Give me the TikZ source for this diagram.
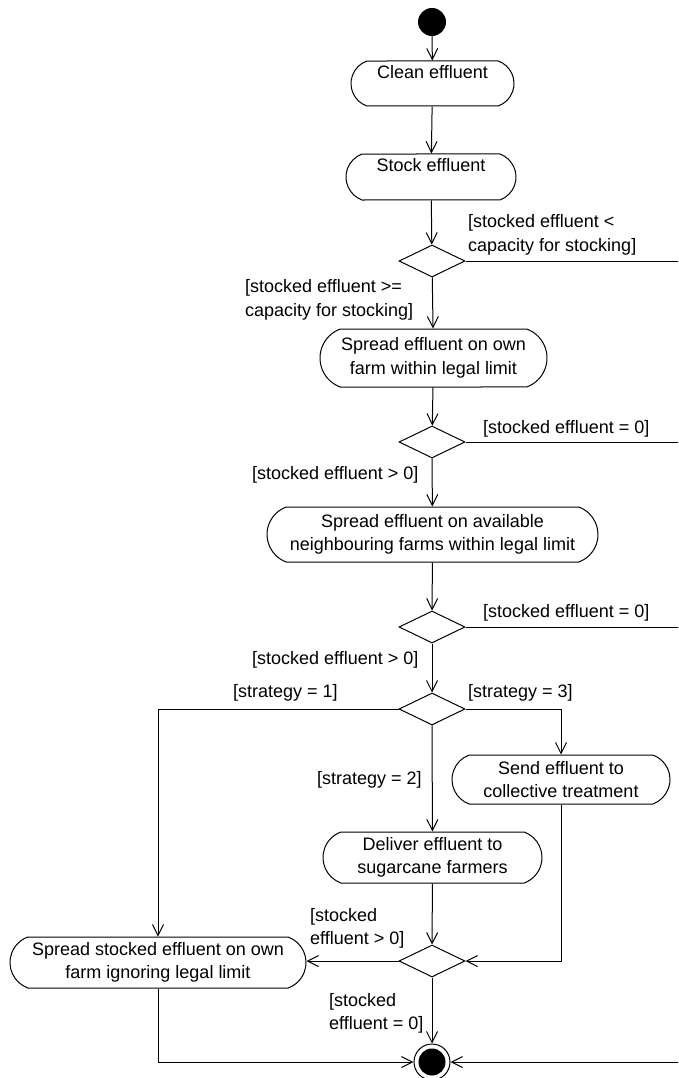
\documentclass[tikz,border=0pt]{standalone}
\usepackage{fontspec}
\setmainfont{Liberation Sans}
\usetikzlibrary{arrows.meta,shapes.misc,shapes.geometric}
\begin{document}
\begin{tikzpicture}[x=1pt,y=-1pt,
  every node/.style={font=\fontsize{18}{23.5}\selectfont},
  act/.style={draw, line width=1pt, rounded rectangle, rounded rectangle arc length=140, inner sep=0pt, align=center},
  dec/.style={draw, line width=1pt, diamond, minimum width=66pt, minimum height=32pt, inner sep=0pt},
  arr/.style={line width=1pt, -{Straight Barb[length=11pt,width=11pt,line width=1pt]}},
  ln/.style={line width=1pt},
  lbl/.style={anchor=west, align=left, inner sep=0pt}]
\useasboundingbox (0,0) rectangle (678,1078);
\clip (0,0) rectangle (678,1078);
\fill[white] (0,0) rectangle (678,1078);

% nodes
\node[circle, fill, inner sep=0pt, minimum size=28pt] (init) at (432,22) {};
\node[act, minimum width=163pt, minimum height=45pt] (clean) at (432.5,83.5) {Clean effluent\\\mbox{}};
\node[act, minimum width=170pt, minimum height=46pt] (stock) at (431,177) {Stock effluent\\\mbox{}};
\node[dec] (d1) at (432,261) {};
\node[act, minimum width=227pt, minimum height=58pt] (own) at (433.5,358) {Spread effluent on own\\farm within legal limit};
\node[dec] (d2) at (432,442) {};
\node[act, minimum width=331pt, minimum height=55pt] (neigh) at (432.5,534.5) {Spread effluent on available\\neighbouring farms within legal limit};
\node[dec] (d3) at (432,627) {};
\node[dec] (d4) at (432,709) {};
\node[act, minimum width=218pt, minimum height=49pt] (send) at (561,779.5) {Send effluent to\\collective treatment};
\node[act, minimum width=219pt, minimum height=51pt] (deliver) at (432.5,857.5) {Deliver effluent to\\sugarcane farmers};
\node[dec] (d5) at (432,961) {};
\node[act, minimum width=296pt, minimum height=51pt] (stocked) at (158,962.5) {Spread stocked effluent on own\\farm ignoring legal limit};
\node[circle, draw, line width=1pt, inner sep=0pt, minimum size=36pt] (final) at (432,1062) {};
\node[circle, fill, inner sep=0pt, minimum size=27pt] (finalin) at (final.center) {};
\coordinate (re) at (700,0);

% connectors
\draw[arr] (init) -- (clean);
\draw[arr] (clean) -- (stock);
\draw[arr] (stock) -- (d1);
\draw[arr] (d1) -- (own);
\draw[ln] (d1.east) -- (d1.east -| re);
\draw[arr] (own) -- (d2);
\draw[ln] (d2.east) -- (d2.east -| re);
\draw[arr] (d2) -- (neigh);
\draw[arr] (neigh) -- (d3);
\draw[ln] (d3.east) -- (d3.east -| re);
\draw[arr] (d3) -- (d4);
\draw[arr] (d4.west) -| (stocked.north);
\draw[arr] (d4.east) -| (send.north);
\draw[arr] (d4) -- (deliver);
\draw[arr] (deliver) -- (d5);
\draw[arr] (send.south) |- (d5.east);
\draw[arr] (d5.west) -- (d5.west -| stocked.east);
\draw[arr] (d5) -- (final);
\draw[arr] (stocked.south) |- (final.west);
\draw[arr] (re |- d1.east) |- (final.east);

% guard labels
\node[lbl] (l1) at (468,235) {[stocked effluent <\\capacity for stocking]};
\node[lbl] (l2) at (245,300) {[stocked effluent >=\\capacity for stocking]};
\node[lbl] (l3) at (483,429) {[stocked effluent = 0]};
\node[lbl] (l4) at (252,475) {[stocked effluent > 0]};
\node[lbl] (l5) at (483,613) {[stocked effluent = 0]};
\node[lbl] (l6) at (252,660) {[stocked effluent > 0]};
\node[lbl] (l7) at (233,693) {[strategy = 1]};
\node[lbl] (l8) at (468,693) {[strategy = 3]};
\node[lbl] (l9) at (317,780) {[strategy = 2]};
\node[lbl] (l10) at (310,928.5) {[stocked\\effluent > 0]};
\node[lbl] (l11) at (329,1013.5) {[stocked\\effluent = 0]};
\end{tikzpicture}
\end{document}
